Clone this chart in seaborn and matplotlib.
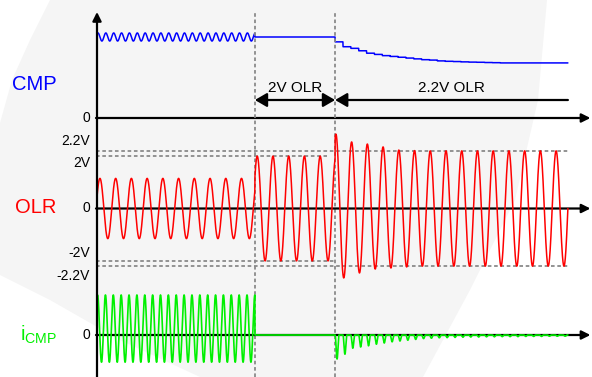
import numpy as np
import pandas as pd
import matplotlib.pyplot as plt
import seaborn as sns
from matplotlib import transforms
from matplotlib.patches import Polygon

sns.set_theme(style="white")
plt.rcParams['font.family'] = ['Liberation Sans', 'DejaVu Sans']

# ==========================================
# Data (time in OLR cycles)
# ==========================================
t_2v = 10.1          # OLR limit switches to 2V
t_22v = 15.2         # OLR limit switches to 2.2V
t_end = 30.0

olr_amp_start = 1.15  # V, before the limit is hit
olr_amp_2v = 2.0
# amplitude of each OLR half cycle after the 2.2V switch (peak, trough, peak, ...)
olr_half_amps = [2.84, 2.65, 2.54, 2.46, 2.46, 2.31, 2.35, 2.27, 2.23, 2.23,
                 2.21, 2.2, 2.2, 2.2, 2.2, 2.2, 2.2, 2.2, 2.2, 2.2,
                 2.2, 2.2, 2.2, 2.2, 2.2, 2.2, 2.2, 2.2, 2.2, 2.2]

cmp_level = 1.0
cmp_ripple = 0.05
# CMP level at each half cycle after the 2.2V switch
cmp_steps = [0.94, 0.88, 0.86, 0.83, 0.80, 0.785, 0.77, 0.76, 0.75, 0.74,
             0.73, 0.72, 0.715, 0.705, 0.70, 0.697, 0.693, 0.69, 0.688, 0.685,
             0.683, 0.68, 0.68, 0.68, 0.68, 0.68, 0.68, 0.68, 0.68, 0.68]

icmp_high = 1.0
icmp_low = -0.68
# depth of each iCMP pulse after the 2.2V switch
icmp_pulses = [0.60, 0.48, 0.33, 0.30, 0.27, 0.23, 0.20, 0.17, 0.15, 0.13,
               0.11, 0.09, 0.08, 0.07, 0.065, 0.06, 0.055, 0.05, 0.05, 0.045,
               0.045, 0.04, 0.04, 0.04, 0.035, 0.035, 0.035, 0.03, 0.03, 0.03]

olr_ticks = [2.2, 2.0, -2.0, -2.2]
olr_tick_labels = ['2.2V', '2V', '-2V', '-2.2V']

BLUE, RED, GREEN, GRAY = '#0000ff', '#ff0000', '#00f000', '#8a8a8a'

# ==========================================
# Build waveforms
# ==========================================
t = np.linspace(0, t_end, 9001)
after = t >= t_22v
k_olr = np.clip(((t - 15.0) * 2).astype(int), 0, len(olr_half_amps) - 1)
amp = np.where(t < t_2v, olr_amp_start, olr_amp_2v)
amp = np.where(after, np.array(olr_half_amps)[k_olr], amp)
olr = amp * np.sin(2 * np.pi * t)

k_step = np.clip(((t - t_22v) * 2).astype(int), 0, len(cmp_steps) - 1)
cmp = np.where(t < t_2v, cmp_level + cmp_ripple * np.sin(4 * np.pi * t), cmp_level)
cmp = np.where(after, np.array(cmp_steps)[k_step], cmp)

mid, half = (icmp_high + icmp_low) / 2, (icmp_high - icmp_low) / 2
icmp = np.where(t < t_2v, mid + half * np.cos(4 * np.pi * (t - t_2v)), 0.0)
pulse = np.clip(np.sin(4 * np.pi * (t - t_22v)), 0, None) ** 2
icmp = np.where(after, -np.array(icmp_pulses)[k_step] * pulse, icmp)

df = pd.DataFrame({'t': t, 'cmp': cmp, 'olr': olr, 'icmp': icmp})

# ==========================================
# Figure
# ==========================================
W, H = 592, 377
fig = plt.figure(figsize=(W / 100, H / 100), dpi=100)

# faint watermark swoosh in the background
bg_ax = fig.add_axes([0, 0, 1, 1], zorder=-1)
bg_ax.axis('off')
bg_ax.set_xlim(0, W)
bg_ax.set_ylim(H, 0)
swoosh = [(50, 0), (547, 0), (538, 100), (515, 200), (470, 290), (423, 377),
          (200, 377), (120, 340), (50, 300), (0, 275), (0, 123), (12, 80), (30, 40)]
bg_ax.add_patch(Polygon(swoosh, closed=True, facecolor='#f5f5f5', edgecolor='none'))

left, width = 96 / W, 496 / W
ax_cmp = fig.add_axes([left, 1 - 128 / H, width, 128 / H])
ax_olr = fig.add_axes([left, 1 - 290 / H, width, 162 / H])
ax_i = fig.add_axes([left, 0, width, 87 / H])

xmax = 496 / 15.73
ax_cmp.set_ylim(-10 / 81, 118 / 81)
ax_olr.set_ylim(-81.5 / 26.2, 80.5 / 26.2)
ax_i.set_ylim(-42 / 40, 45 / 40)
for ax in (ax_cmp, ax_olr, ax_i):
    ax.patch.set_alpha(0)
    # horizontal zero axis with arrow
    ax.annotate('', xy=(xmax - 0.1, 0), xytext=(0, 0),
                arrowprops=dict(arrowstyle='-|>', color='black', lw=1.6,
                                mutation_scale=13, shrinkA=0, shrinkB=0),
                zorder=2)
    ax.text(-6 / 496, 0, '0', transform=ax.get_yaxis_transform(),
            ha='right', va='center', fontsize=10, color='black')

# waveforms
sns.lineplot(data=df, x='t', y='cmp', ax=ax_cmp, color=BLUE, lw=1.1,
             estimator=None, sort=False, legend=False, zorder=3)
sns.lineplot(data=df, x='t', y='olr', ax=ax_olr, color=RED, lw=1.1,
             estimator=None, sort=False, legend=False, zorder=3)
sns.lineplot(data=df, x='t', y='icmp', ax=ax_i, color=GREEN, lw=1.2,
             estimator=None, sort=False, legend=False, zorder=3)
for ax in (ax_cmp, ax_olr, ax_i):
    ax.set_xlim(0, xmax)
    ax.axis('off')

# OLR limit dashed lines + labels
dash_ends = [30.1, 14.7, t_22v, 30.1]
nudges = [7, -5, 6, -7]
for v, lab, xe, nd in zip(olr_ticks, olr_tick_labels, dash_ends, nudges):
    ax_olr.plot([0, xe], [v, v], color=GRAY, lw=1.3, ls=(0, (2, 1.5)), zorder=1)
    ax_olr.annotate(lab, xy=(-6 / 496, v), xycoords=ax_olr.get_yaxis_transform(),
                    xytext=(0, nd), textcoords='offset points',
                    ha='right', va='center', fontsize=10, color='black',
                    annotation_clip=False)

# vertical dashed markers
trans = transforms.blended_transform_factory(ax_olr.transData, fig.transFigure)
for tv in (t_2v, t_22v):
    ax_olr.plot([tv, tv], [0, 1 - 12 / H], transform=trans, color=GRAY,
                lw=1.3, ls=(0, (2, 1.5)), clip_on=False, zorder=1)

# vertical axis
fig_ax = fig.add_axes([0, 0, 1, 1])
fig_ax.axis('off')
fig_ax.patch.set_alpha(0)
fig_ax.set_xlim(0, 1)
fig_ax.set_ylim(0, 1)
fig_ax.annotate('', xy=(97 / W, 1 - 12 / H), xytext=(97 / W, 0),
                arrowprops=dict(arrowstyle='-|>', color='black', lw=1.6,
                                mutation_scale=13, shrinkA=0, shrinkB=0))

# OLR region arrows
y_arr = 18 / 81
ax_cmp.annotate('', xy=(t_22v, y_arr), xytext=(t_2v, y_arr),
                arrowprops=dict(arrowstyle='<|-|>,head_length=0.6,head_width=0.35',
                                color='black', lw=1.6, mutation_scale=12,
                                shrinkA=0, shrinkB=0))
ax_cmp.annotate('', xy=(t_22v, y_arr), xytext=(t_end, y_arr),
                arrowprops=dict(arrowstyle='-|>,head_length=0.6,head_width=0.35',
                                color='black', lw=1.6, mutation_scale=12,
                                shrinkA=0, shrinkB=0))
ax_cmp.text((t_2v + t_22v) / 2, 30 / 81, '2V OLR', ha='center', va='center',
            fontsize=11, color='black')
ax_cmp.text((t_22v + t_end) / 2, 30 / 81, '2.2V OLR', ha='center', va='center',
            fontsize=11, color='black')

# signal names
ax_cmp.text(-62 / 496, 33.5 / 81, 'CMP', transform=ax_cmp.get_yaxis_transform(),
            ha='center', va='center', fontsize=14.5, color=BLUE)
ax_olr.text(-60 / 496, 0.04, 'OLR', transform=ax_olr.get_yaxis_transform(),
            ha='center', va='center', fontsize=14.5, color=RED)
ax_i.text(-57 / 496, 0.0, r'i$_\mathregular{CMP}$', transform=ax_i.get_yaxis_transform(),
          ha='center', va='center', fontsize=14.5, color=GREEN)

fig.savefig('out.png', dpi=100)
